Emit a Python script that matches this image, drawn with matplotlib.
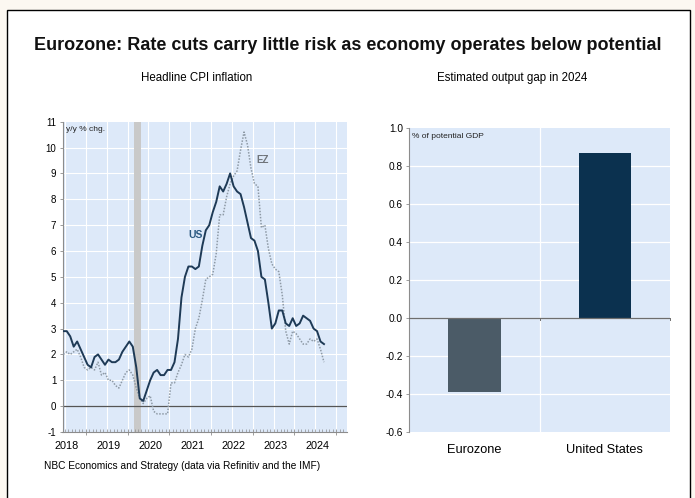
#!/usr/bin/env python3

import numpy as np
import matplotlib
matplotlib.use("Agg")
import matplotlib.pyplot as plt
from matplotlib.patches import Rectangle
import matplotlib.transforms as mtransforms

plt.rcParams["font.family"] = ["Liberation Sans", "DejaVu Sans"]
plt.rcParams["axes.unicode_minus"] = False

# headline CPI, y/y % chg., monthly Jun 2018 - Sep 2024
us_cpi = [2.9, 2.9, 2.7, 2.3, 2.5, 2.2, 1.9,
          1.6, 1.5, 1.9, 2.0, 1.8, 1.6, 1.8, 1.7, 1.7, 1.8, 2.1, 2.3,
          2.5, 2.3, 1.5, 0.3, 0.2, 0.6, 1.0, 1.3, 1.4, 1.2, 1.2, 1.4,
          1.4, 1.7, 2.6, 4.2, 5.0, 5.4, 5.4, 5.3, 5.4, 6.2, 6.8, 7.0,
          7.5, 7.9, 8.5, 8.3, 8.6, 9.0, 8.5, 8.3, 8.2, 7.7, 7.1, 6.5,
          6.4, 6.0, 5.0, 4.9, 4.0, 3.0, 3.2, 3.7, 3.7, 3.2, 3.1, 3.4,
          3.1, 3.2, 3.5, 3.4, 3.3, 3.0, 2.9, 2.5, 2.4]
ez_cpi = [2.0, 2.1, 2.0, 2.1, 2.2, 1.9, 1.5,
          1.4, 1.5, 1.4, 1.7, 1.2, 1.3, 1.0, 1.0, 0.8, 0.7, 1.0, 1.3,
          1.4, 1.2, 0.7, 0.3, 0.1, 0.3, 0.4, -0.2, -0.3, -0.3, -0.3, -0.3,
          0.9, 0.9, 1.3, 1.6, 2.0, 1.9, 2.2, 3.0, 3.4, 4.1, 4.9, 5.0,
          5.1, 5.9, 7.4, 7.4, 8.1, 8.6, 8.9, 9.1, 9.9, 10.6, 10.1, 9.2,
          8.6, 8.5, 6.9, 7.0, 6.1, 5.5, 5.3, 5.2, 4.3, 2.9, 2.4, 2.9,
          2.8, 2.6, 2.4, 2.4, 2.6, 2.5, 2.6, 2.2, 1.7]
years = [2018, 2019, 2020, 2021, 2022, 2023, 2024]

# output gap 2024, % of potential GDP
gap_regions = ["Eurozone", "United States"]
gap_values = [-0.39, 0.87]

# monthly points plotted mid-month
dates = 2018 + 5.5 / 12 + np.arange(len(us_cpi)) / 12

BG = "#dde9f9"
CREAM = "#fcf8f1"
SPINE = "#8c8c8c"

fig = plt.figure(figsize=(6.95, 4.98), dpi=100)
fig.patch.set_facecolor(CREAM)
fig.patches.append(Rectangle((7 / 695, -0.01), 683 / 695, 1 - 10 / 498 + 0.01,
                             transform=fig.transFigure, facecolor="white",
                             edgecolor="black", linewidth=1.0, zorder=-1))

fig.text(0.5, 1 - 45 / 498, "Eurozone: Rate cuts carry little risk as economy operates below potential",
         ha="center", va="center", fontsize=13, fontweight="bold", color="#111111")
fig.text(197 / 695, 1 - 78 / 498, "Headline CPI inflation", ha="center", va="center", fontsize=8.3)
fig.text(512 / 695, 1 - 78 / 498, "Estimated output gap in 2024", ha="center", va="center", fontsize=8.3)
fig.text(44 / 695, 1 - 466 / 498, "NBC Economics and Strategy (data via Refinitiv and the IMF)",
         ha="left", va="center", fontsize=7.3)

# --- left panel: CPI lines
ax = fig.add_axes([62.5 / 695, 1 - 432 / 498, (347 - 62.5) / 695, (432 - 121.7) / 498])
ax.set_facecolor(BG)
for s in ["top", "right"]:
    ax.spines[s].set_visible(False)
for s in ["left", "bottom"]:
    ax.spines[s].set_color(SPINE)
    ax.spines[s].set_linewidth(0.8)

for yv in range(0, 11):
    ax.axhline(yv, color="white", linewidth=0.8, zorder=0.5)
for xv in np.arange(2018.5, 2025.2, 0.5):
    ax.axvline(xv, color="white", linewidth=0.8, zorder=0.5)

ax.axvspan(2020.155, 2020.316, color="#c9c9c9", zorder=1, linewidth=0)
ax.axhline(0, color="#555555", linewidth=0.9, zorder=2)

ax.plot(dates, ez_cpi, color="#8e9aa6", linewidth=1.1, linestyle=(0, (1, 1)), zorder=3)
ax.plot(dates, us_cpi, color="#1e3a56", linewidth=1.4, zorder=4)

ax.text(2021.62, 6.6, "US", color="#2c5a82", fontsize=7.5, fontweight="bold", ha="center", va="center")
ax.text(2023.24, 9.52, "EZ", color="#6f747a", fontsize=7, fontweight="bold", ha="center", va="center")
ax.text(0.012, 0.985, "y/y % chg.", transform=ax.transAxes, fontsize=6, ha="left", va="top", color="#222222")

ax.set_yticks(range(-1, 12))
ax.tick_params(axis="y", direction="out", length=2.5, width=0.6, color=SPINE, labelsize=7, pad=2)
ax.set_xticks(years + [2025])
ax.set_xticklabels([])
ax.set_xticks(np.arange(2018.5, 2025.21, 1 / 12), minor=True)
ax.tick_params(axis="x", which="major", direction="inout", length=4, width=0.6, color=SPINE)
ax.tick_params(axis="x", which="minor", direction="in", length=2, width=0.5, color=SPINE)
ax.set_xlim(2018.44, 2025.26)
ax.set_ylim(-1, 11)
trans = mtransforms.blended_transform_factory(ax.transData, ax.transAxes)
for yr in years:
    ax.text(yr + 0.55, -0.045, str(yr), transform=trans, ha="center", va="center", fontsize=7.8)

# --- right panel: output gap bars
ax2 = fig.add_axes([409.3 / 695, 1 - 431.7 / 498, (670 - 409.3) / 695, (431.7 - 128.3) / 498])
ax2.set_facecolor(BG)
for s in ["top", "right", "bottom"]:
    ax2.spines[s].set_visible(False)
ax2.spines["left"].set_color(SPINE)
ax2.spines["left"].set_linewidth(0.8)

for yv in np.arange(-0.4, 1.0, 0.2):
    ax2.axhline(yv, color="white", linewidth=0.9, zorder=0.5)
ax2.axvline(0.5, color="white", linewidth=0.9, zorder=0.5)

ax2.bar(range(len(gap_values)), gap_values, width=0.4,
        color=["#4b5b67", "#0b314f"], zorder=2)
ax2.axhline(0, color="#6e6e6e", linewidth=0.9, zorder=3)
for xv in [0.5, 1.5]:
    ax2.plot([xv, xv], [0, -0.012], color="#6e6e6e", linewidth=0.7, zorder=3, clip_on=False)

ax2.text(0.01, 0.985, "% of potential GDP", transform=ax2.transAxes, fontsize=6,
         ha="left", va="top", color="#222222")
ax2.set_yticks(np.arange(-0.6, 1.01, 0.2))
ax2.set_yticklabels(["%.1f" % v for v in np.arange(-0.6, 1.01, 0.2)])
ax2.tick_params(axis="y", direction="out", length=2.5, width=0.6, color=SPINE, labelsize=7.3, pad=2)
ax2.set_xticks(range(len(gap_regions)))
ax2.set_xticklabels(gap_regions, fontsize=9.2)
ax2.tick_params(axis="x", length=0, pad=9)
ax2.set_xlim(-0.5, 1.5)
ax2.set_ylim(-0.6, 1.0)

fig.savefig("out.png", dpi=100, facecolor=fig.get_facecolor())
